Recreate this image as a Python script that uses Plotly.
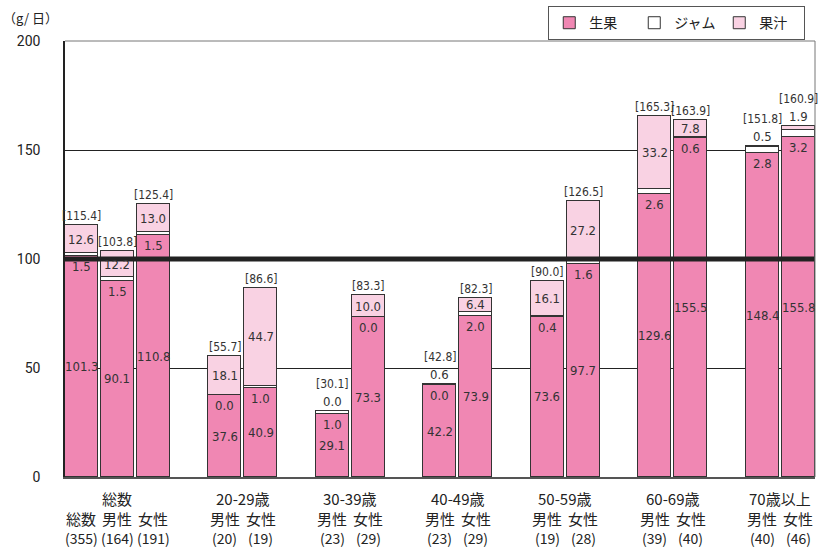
import plotly.graph_objects as go

# ---- data ----
group_names = ["総数", "20-29歳", "30-39歳", "40-49歳", "50-59歳", "60-69歳", "70歳以上"]
sub_labels = [["総数", "男性", "女性"], ["男性", "女性"], ["男性", "女性"], ["男性", "女性"],
              ["男性", "女性"], ["男性", "女性"], ["男性", "女性"]]
sample_n = [[355, 164, 191], [20, 19], [23, 29], [23, 29], [19, 28], [39, 40], [40, 46]]

fresh = [101.3, 90.1, 110.8, 37.6, 40.9, 29.1, 73.3, 42.2, 73.9, 73.6, 97.7, 129.6, 155.5, 148.4, 155.8]
jam = [1.5, 1.5, 1.5, 0.0, 1.0, 1.0, 0.0, 0.0, 2.0, 0.4, 1.6, 2.6, 0.6, 2.8, 3.2]
juice = [12.6, 12.2, 13.0, 18.1, 44.7, 0.0, 10.0, 0.6, 6.4, 16.1, 27.2, 33.2, 7.8, 0.5, 1.9]
totals = [115.4, 103.8, 125.4, 55.7, 86.6, 30.1, 83.3, 42.8, 82.3, 90.0, 126.5, 165.3, 163.9, 151.8, 160.9]

series_names = ["生果", "ジャム", "果汁"]
y_ticks = [0, 50, 100, 150, 200]

# ---- layout helpers ----
xpos = []
group_centers = []
slot = 0
for subs in sub_labels:
    start = slot
    for _ in subs:
        xpos.append(slot)
        slot += 1
    group_centers.append((start + slot - 1) / 2)
    slot += 1

PINK = "#F087B3"
LIGHT = "#F9D2E3"
WHITE = "#FFFFFF"
OUT = "#333333"
NUMFONT = "Liberation Sans Narrow, DejaVu Sans Condensed, Roboto, Noto Sans CJK JP"
JFONT = "Noto Sans CJK JP"
W = 0.92

fig = go.Figure()
for name, vals, col in zip(series_names, [fresh, jam, juice], [PINK, WHITE, LIGHT]):
    fig.add_trace(go.Bar(
        x=xpos, y=vals, name=name, width=[W] * len(xpos),
        marker=dict(color=col, line=dict(color=OUT, width=1)),
    ))

ann = []
tf = dict(family=NUMFONT, size=13, color="#333")
tt = dict(family=NUMFONT, size=12, color="#333")
for i, x in enumerate(xpos):
    f, j, u, t = fresh[i], jam[i], juice[i], totals[i]
    ann.append(dict(x=x, y=f / 2, text=f"{f:.1f}", showarrow=False, font=tf))
    ann.append(dict(x=x, y=f, text=f"{j:.1f}", showarrow=False, font=tf, yanchor="top", yshift=-1))
    top = f + j + u
    if u >= 5:
        ann.append(dict(x=x, y=f + j + u / 2, text=f"{u:.1f}", showarrow=False, font=tf))
        ann.append(dict(x=x, y=top, text=f"[{t:.1f}]", showarrow=False, font=tt, yanchor="bottom", yshift=0))
    else:
        ann.append(dict(x=x, y=top, text=f"{u:.1f}", showarrow=False, font=tf, yanchor="bottom", yshift=0))
        ann.append(dict(x=x, y=top, text=f"[{t:.1f}]", showarrow=False, font=tt, yanchor="bottom", yshift=18))

lf = dict(family=JFONT, size=15, color="#222")
for gi, g in enumerate(group_names):
    ann.append(dict(x=group_centers[gi], y=0, yref="paper", text=g, showarrow=False, font=lf,
                    yanchor="middle", yshift=-21))
i = 0
for gi, subs in enumerate(sub_labels):
    for k, s in enumerate(subs):
        ann.append(dict(x=xpos[i], y=0, yref="paper", text=s, showarrow=False, font=lf,
                        yanchor="middle", yshift=-41))
        ann.append(dict(x=xpos[i], y=0, yref="paper", text=f"({sample_n[gi][k]})", showarrow=False,
                        font=dict(family=JFONT, size=14, color="#222"), yanchor="middle", yshift=-61))
        i += 1

ann.append(dict(x=0, y=1, xref="paper", yref="paper", text="（g/ 日）", showarrow=False,
                font=dict(family=JFONT, size=13, color="#222"), xanchor="left", yanchor="middle",
                xshift=-64, yshift=24))

shapes = [
    dict(type="line", xref="paper", yref="y", x0=0, x1=1, y0=100, y1=100,
         line=dict(color="#222", width=5), layer="above"),
    dict(type="line", xref="paper", yref="paper", x0=0, x1=1, y0=1, y1=1,
         line=dict(color="#777", width=1)),
    dict(type="line", xref="paper", yref="paper", x0=1, x1=1, y0=0, y1=1,
         line=dict(color="#777", width=1)),
]

fig.update_layout(
    width=819, height=547,
    margin=dict(l=65, r=4, t=41, b=70, autoexpand=False),
    barmode="stack",
    plot_bgcolor="white", paper_bgcolor="white",
    showlegend=True,
    legend=dict(orientation="h", x=0.987, xanchor="right", y=1.08, yanchor="top",
                bordercolor="#555", borderwidth=1, font=dict(family=JFONT, size=14, color="#222"),
                entrywidth=40, entrywidthmode="pixels", itemwidth=30, traceorder="normal",
                itemclick=False, tracegroupgap=0),
    annotations=ann, shapes=shapes,
    xaxis=dict(range=[-0.46, xpos[-1] + 0.47], showticklabels=False, showgrid=False,
               zeroline=False, showline=True, linecolor="#555", linewidth=1.5, fixedrange=True),
    yaxis=dict(range=[0, 200], tickvals=y_ticks, showgrid=True, gridcolor="#222", gridwidth=1,
               zeroline=False, showline=True, linecolor="#222", linewidth=1.5,
               tickfont=dict(family="Roboto, Noto Sans", size=14, color="#222"),
               ticklabelstandoff=20, fixedrange=True),
    bargap=0,
)

fig.write_html("out.html")
